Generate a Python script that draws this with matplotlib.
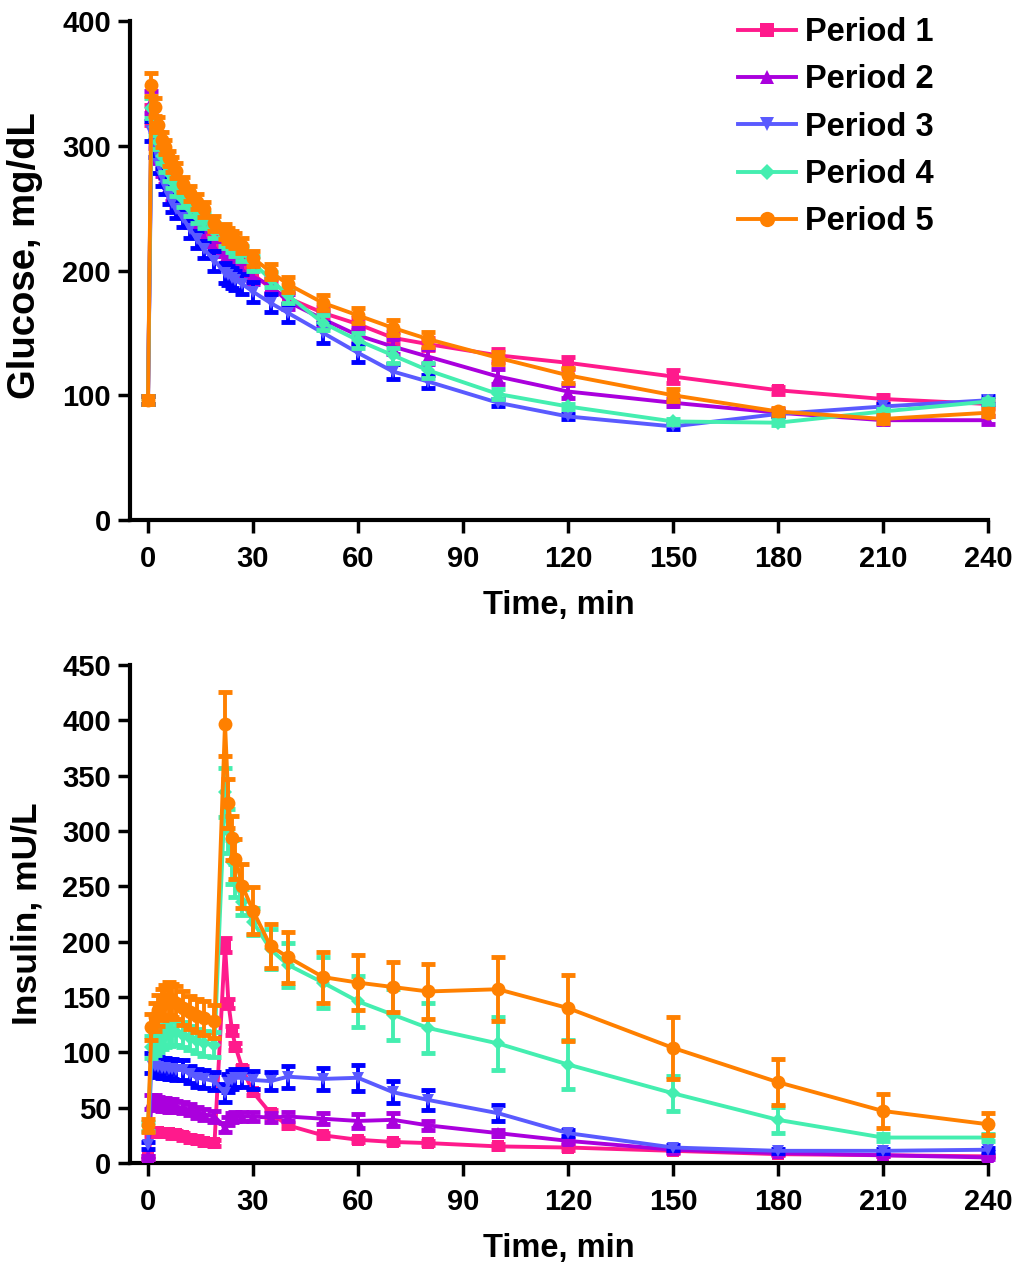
import matplotlib

matplotlib.use("Agg")

import matplotlib.pyplot as plt
from matplotlib.lines import Line2D

# sampling times (min)
TIME = [0, 1, 2, 3, 4, 5, 6, 7, 8, 10, 12, 14, 16, 19, 22, 23, 24, 25,
        27, 30, 35, 40, 50, 60, 70, 80, 100, 120, 150, 180, 210, 240]

PERIODS = ["Period 1", "Period 2", "Period 3", "Period 4", "Period 5"]

# glucose, mg/dL (mean and SEM)
glucose_p1 = [96, 325, 308, 296, 286, 279, 272, 266, 261, 254, 246, 240, 233, 225, 217, 214,
              211, 209, 205, 197, 186, 178, 166, 157, 146, 141, 132, 126, 115, 104, 97, 93]
glucose_p2 = [96, 335, 305, 292, 282, 275, 268, 262, 257, 250, 241, 235, 226, 218, 210, 207,
              205, 203, 200, 195, 188, 175, 161, 148, 139, 131, 115, 103, 94, 86, 80, 80]
glucose_p3 = [96, 312, 298, 285, 275, 268, 260, 254, 249, 242, 233, 225, 217, 208, 198, 196,
              194, 192, 189, 183, 174, 166, 150, 134, 119, 111, 94, 83, 75, 85, 91, 96]
glucose_p4 = [96, 330, 315, 303, 292, 285, 278, 272, 266, 257, 250, 244, 240, 232, 226, 224,
              221, 218, 214, 206, 193, 180, 158, 144, 132, 120, 101, 91, 79, 78, 87, 95]
glucose_p5 = [96, 349, 331, 317, 305, 299, 290, 285, 280, 269, 262, 255, 249, 238, 231, 228,
              226, 224, 220, 210, 199, 189, 174, 164, 154, 145, 130, 116, 100, 87, 81, 86]

glucose_sem_p1 = [3, 8, 6, 6, 5, 5, 5, 5, 5, 5, 5, 5, 5, 5, 5, 5,
                  5, 5, 5, 5, 5, 5, 5, 5, 5, 5, 5, 5, 5, 3, 3, 3]
glucose_sem_p2 = [3, 9, 7, 6, 6, 6, 6, 6, 6, 6, 6, 6, 6, 6, 6, 6,
                  6, 6, 6, 6, 6, 6, 6, 6, 6, 6, 6, 5, 3, 3, 3, 3]
glucose_sem_p3 = [3, 8, 7, 7, 7, 7, 7, 7, 7, 7, 7, 7, 7, 8, 8, 8,
                  8, 8, 8, 8, 7, 7, 8, 7, 6, 5, 3, 2, 2, 2, 2, 3]
glucose_sem_p4 = [3, 8, 6, 6, 6, 6, 6, 6, 6, 6, 6, 6, 6, 6, 6, 6,
                  6, 6, 6, 6, 6, 6, 6, 6, 6, 6, 4, 2, 2, 2, 2, 2]
glucose_sem_p5 = [3, 9, 7, 6, 6, 6, 6, 6, 6, 6, 6, 6, 6, 6, 6, 6,
                  6, 6, 6, 6, 6, 6, 6, 6, 6, 6, 5, 6, 5, 3, 3, 3]

# insulin, mU/L (mean and SEM)
insulin_p1 = [5, 27, 28, 28, 27, 27, 27, 26, 26, 24, 22, 21, 19, 18, 197, 144,
              120, 105, 85, 64, 45, 34, 25, 21, 19, 18, 15, 14, 11, 8, 7, 6]
insulin_p2 = [5, 55, 55, 54, 53, 53, 52, 52, 51, 50, 48, 46, 44, 42, 32, 38,
              41, 42, 42, 42, 41, 42, 40, 38, 39, 34, 27, 20, 12, 9, 7, 5]
insulin_p3 = [16, 90, 88, 87, 86, 86, 85, 85, 84, 84, 80, 77, 76, 74, 63, 72,
              75, 77, 77, 75, 74, 78, 76, 77, 64, 57, 45, 27, 14, 11, 11, 12]
insulin_p4 = [33, 105, 108, 110, 113, 115, 117, 118, 118, 116, 113, 110, 108, 107, 335, 300,
              272, 255, 236, 218, 193, 179, 163, 146, 134, 122, 108, 89, 63, 39, 23, 23]
insulin_p5 = [34, 123, 132, 138, 143, 146, 149, 147, 145, 140, 136, 133, 131, 128, 397, 325,
              294, 275, 250, 228, 196, 186, 168, 163, 159, 155, 157, 140, 104, 73, 47, 35]

insulin_sem_p1 = [1, 3, 3, 3, 3, 3, 3, 3, 3, 3, 3, 3, 3, 3, 6, 4,
                  4, 3, 3, 3, 3, 2, 2, 2, 2, 2, 2, 2, 2, 1, 1, 1]
insulin_sem_p2 = [1, 6, 6, 6, 6, 6, 6, 6, 5, 5, 5, 5, 5, 5, 4, 4,
                  4, 4, 4, 4, 4, 4, 5, 6, 6, 4, 3, 2, 2, 1, 1, 1]
insulin_sem_p3 = [3, 9, 9, 9, 9, 9, 9, 9, 9, 9, 8, 8, 8, 8, 8, 8,
                  8, 8, 8, 8, 8, 10, 10, 12, 10, 9, 7, 3, 2, 2, 2, 2]
insulin_sem_p4 = [4, 10, 10, 10, 10, 10, 11, 11, 11, 11, 11, 11, 11, 11, 22, 20,
                  20, 15, 12, 12, 18, 20, 23, 23, 23, 23, 24, 22, 16, 12, 3, 3]
insulin_sem_p5 = [6, 12, 13, 14, 14, 15, 15, 15, 15, 15, 15, 15, 15, 15, 29, 22,
                  20, 18, 20, 21, 20, 23, 23, 25, 23, 25, 29, 30, 28, 21, 15, 10]

GLUCOSE = [glucose_p1, glucose_p2, glucose_p3, glucose_p4, glucose_p5]
GLUCOSE_SEM = [glucose_sem_p1, glucose_sem_p2, glucose_sem_p3, glucose_sem_p4, glucose_sem_p5]
INSULIN = [insulin_p1, insulin_p2, insulin_p3, insulin_p4, insulin_p5]
INSULIN_SEM = [insulin_sem_p1, insulin_sem_p2, insulin_sem_p3, insulin_sem_p4, insulin_sem_p5]

COLORS = ["#FF1A8C", "#AA00DD", "#5A5AFF", "#44EEB0", "#FF8000"]
BAR_COLORS = ["#FF1A8C", "#AA00DD", "#0000FF", "#44EEB0", "#FF8000"]
MARKERS = ["s", "^", "v", "D", "o"]
MARKER_SIZES = [8.5, 9, 9, 7, 10]

FONT = "Liberation Sans"

W, H = 1020, 1262
LEFT = 130.5 / W
WIDTH = (988 - 130.5) / W


def style_axes(ax, ymax, ystep, ylabel, label_size, label_y):

    ax.set_xlim(-5, 240)
    ax.set_ylim(0, ymax)
    ax.set_xticks(range(0, 241, 30))
    ax.set_yticks(range(0, ymax + 1, ystep))

    for side in ["top", "right"]:
        ax.spines[side].set_visible(False)
    for side in ["left", "bottom"]:
        ax.spines[side].set_linewidth(3)

    ax.tick_params(direction="out", length=9, width=2.5, labelsize=21)
    ax.tick_params(axis="x", pad=9)
    ax.tick_params(axis="y", pad=5)
    for lab in ax.get_xticklabels() + ax.get_yticklabels():
        lab.set_fontweight("bold")
        lab.set_family(FONT)

    ax.set_xlabel("Time, min", fontsize=23.5, fontweight="bold", family=FONT, labelpad=12)
    ax.set_ylabel(ylabel, fontsize=label_size, fontweight="bold", family=FONT)
    # right edge of the rotated label sits near x = 42 px
    ax.yaxis.set_label_coords(-0.102, label_y)


def draw_panel(ax, values, sems):

    for i in range(len(PERIODS)):
        bars = ax.errorbar(
            TIME,
            values[i],
            yerr=sems[i],
            color=COLORS[i],
            ecolor=BAR_COLORS[i],
            marker=MARKERS[i],
            markersize=MARKER_SIZES[i],
            linewidth=2.8,
            elinewidth=2.8,
            capsize=5,
            capthick=3.5,
            zorder=3 + i,
            clip_on=False
        )
        bars.lines[0].set_markeredgewidth(0)


fig = plt.figure(figsize=(W / 100, H / 100), dpi=100)

ax_top = fig.add_axes([LEFT, 1 - 520 / H, WIDTH, 499 / H])
ax_bot = fig.add_axes([LEFT, 1 - 1163 / H, WIDTH, 498 / H])

draw_panel(ax_top, GLUCOSE, GLUCOSE_SEM)
draw_panel(ax_bot, INSULIN, INSULIN_SEM)

style_axes(ax_top, 400, 100, "Glucose, mg/dL", 27.5, 0.53)
style_axes(ax_bot, 450, 50, "Insulin, mU/L", 25.5, 0.5)

handles = [
    Line2D([], [], color=COLORS[i], marker=MARKERS[i],
           markersize=MARKER_SIZES[i] + 1, markeredgewidth=0, linewidth=2.8)
    for i in range(len(PERIODS))
]

ax_top.legend(
    handles,
    PERIODS,
    loc="upper left",
    bbox_to_anchor=(0.708, 1.008),
    frameon=False,
    prop={"family": FONT, "weight": "bold", "size": 23.5},
    handlelength=1.8,
    handletextpad=0.25,
    labelspacing=0.5,
    borderpad=0,
    borderaxespad=0
)

fig.savefig("out.png", dpi=100)
